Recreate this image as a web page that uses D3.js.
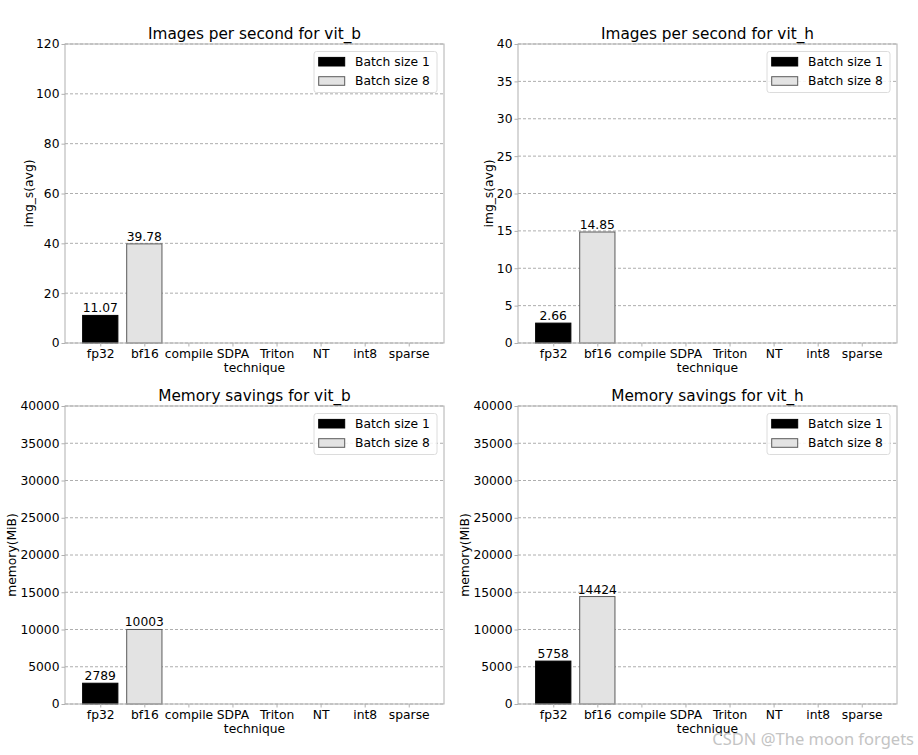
<!DOCTYPE html>
<html>
<head>
<meta charset="utf-8">
<script src="https://cdn.jsdelivr.net/npm/d3@7"></script>
<style>
  body { margin: 0; background: #fff; }
  text { font-family: "DejaVu Sans", sans-serif; }
</style>
</head>
<body>
<svg id="fig" width="918" height="755"></svg>
<script>
// categories on the x axis
let techniques = ['fp32', 'bf16', 'compile', 'SDPA', 'Triton', 'NT', 'int8', 'sparse'];
let seriesNames = ['Batch size 1', 'Batch size 8'];

// values
let ipsVitB1 = [11.07, 0, 0, 0, 0, 0, 0, 0];
let ipsVitB8 = [0, 39.78, 0, 0, 0, 0, 0, 0];
let ipsVitH1 = [2.66, 0, 0, 0, 0, 0, 0, 0];
let ipsVitH8 = [0, 14.85, 0, 0, 0, 0, 0, 0];
let memVitB1 = [2789, 0, 0, 0, 0, 0, 0, 0];
let memVitB8 = [0, 10003, 0, 0, 0, 0, 0, 0];
let memVitH1 = [5758, 0, 0, 0, 0, 0, 0, 0];
let memVitH8 = [0, 14424, 0, 0, 0, 0, 0, 0];

let ipsTicksB = [0, 20, 40, 60, 80, 100, 120];
let ipsTicksH = [0, 5, 10, 15, 20, 25, 30, 35, 40];
let memTicks = [0, 5000, 10000, 15000, 20000, 25000, 30000, 35000, 40000];

let panels = [
    {title: 'Images per second for vit_b', ylabel: 'img_s(avg)', s1: ipsVitB1, s8: ipsVitB8, ticks: ipsTicksB, fmt: d3.format('.2f'),
     x0: 65, x1: 444, y0: 44, y1: 343, ylabX: 29},
    {title: 'Images per second for vit_h', ylabel: 'img_s(avg)', s1: ipsVitH1, s8: ipsVitH8, ticks: ipsTicksH, fmt: d3.format('.2f'),
     x0: 518, x1: 897, y0: 44, y1: 343, ylabX: 489},
    {title: 'Memory savings for vit_b', ylabel: 'memory(MiB)', s1: memVitB1, s8: memVitB8, ticks: memTicks, fmt: d3.format('d'),
     x0: 65, x1: 444, y0: 406, y1: 704, ylabX: 12},
    {title: 'Memory savings for vit_h', ylabel: 'memory(MiB)', s1: memVitH1, s8: memVitH8, ticks: memTicks, fmt: d3.format('d'),
     x0: 518, x1: 897, y0: 406, y1: 704, ylabX: 465}
];

let fills = ['#000000', '#e3e3e3'];
let edges = ['#000000', '#5a5a5a'];
let fs = 12.3;

let svg = d3.select('#fig');

panels.forEach(p => {
    let xScale = d3.scaleLinear().domain([-0.8, 7.8]).range([p.x0, p.x1]);
    let yScale = d3.scaleLinear().domain([0, d3.max(p.ticks)]).range([p.y1, p.y0]);
    let g = svg.append('g');

    // dashed grid
    g.selectAll('.grid')
        .data(p.ticks)
        .enter().append('line')
        .attr('x1', p.x0).attr('x2', p.x1)
        .attr('y1', d => yScale(d)).attr('y2', d => yScale(d))
        .attr('stroke', '#999').attr('stroke-width', 0.8)
        .attr('stroke-dasharray', '3,2');

    // bars, one group per series
    [p.s1, p.s8].forEach((vals, si) => {
        g.selectAll('.bar' + si)
            .data(vals)
            .enter().append('rect')
            .attr('x', (d, i) => xScale(i - 0.4))
            .attr('width', xScale(0.4) - xScale(-0.4))
            .attr('y', d => yScale(d))
            .attr('height', d => p.y1 - yScale(d))
            .attr('fill', fills[si])
            .attr('stroke', d => d > 0 ? edges[si] : 'none')
            .attr('stroke-width', 1);

        g.selectAll('.lab' + si)
            .data(vals.map((v, i) => ({v, i})).filter(d => d.v > 0))
            .enter().append('text')
            .attr('x', d => xScale(d.i))
            .attr('y', d => yScale(d.v) - 3)
            .attr('text-anchor', 'middle')
            .attr('font-size', fs)
            .text(d => p.fmt(d.v));
    });

    // frame
    g.append('rect')
        .attr('x', p.x0).attr('y', p.y0)
        .attr('width', p.x1 - p.x0).attr('height', p.y1 - p.y0)
        .attr('fill', 'none').attr('stroke', '#b0b0b0').attr('stroke-width', 1);

    // axes
    let yAxis = d3.axisLeft(yScale).tickValues(p.ticks).tickSize(3.5).tickPadding(2).tickFormat(d3.format('d'));
    let xAxis = d3.axisBottom(xScale).tickValues(d3.range(techniques.length)).tickSize(3.5).tickPadding(3)
        .tickFormat(i => techniques[i]);

    let ya = g.append('g').attr('transform', `translate(${p.x0},0)`).call(yAxis);
    let xa = g.append('g').attr('transform', `translate(0,${p.y1})`).call(xAxis);
    [ya, xa].forEach(a => {
        a.select('.domain').remove();
        a.selectAll('line').attr('stroke', '#b0b0b0');
        a.selectAll('text').attr('font-size', fs).attr('fill', '#000')
            .style('font-family', '"DejaVu Sans", sans-serif');
    });

    // title and axis labels
    g.append('text')
        .attr('x', (p.x0 + p.x1) / 2).attr('y', p.y0 - 5)
        .attr('text-anchor', 'middle').attr('font-size', 15.3)
        .text(p.title);
    g.append('text')
        .attr('x', (p.x0 + p.x1) / 2).attr('y', p.y1 + 28.5)
        .attr('text-anchor', 'middle').attr('font-size', fs)
        .text('technique');
    g.append('text')
        .attr('transform', `translate(${p.ylabX},${(p.y0 + p.y1) / 2}) rotate(-90)`)
        .attr('text-anchor', 'middle').attr('dominant-baseline', 'central')
        .attr('font-size', fs)
        .text(p.ylabel);

    // legend
    let lx = p.x1 - 130, ly = p.y0 + 7.5;
    let leg = g.append('g').attr('transform', `translate(${lx},${ly})`);
    leg.append('rect')
        .attr('width', 123).attr('height', 41).attr('rx', 2.5)
        .attr('fill', '#fff').attr('fill-opacity', 0.85)
        .attr('stroke', '#dcdcdc').attr('stroke-width', 1);
    seriesNames.forEach((name, i) => {
        let cy = 10.2 + i * 19.3;
        leg.append('rect')
            .attr('x', 4.7).attr('y', cy - 4.3)
            .attr('width', 26).attr('height', 8.6)
            .attr('fill', fills[i]).attr('stroke', edges[i]).attr('stroke-width', 1);
        leg.append('text')
            .attr('x', 41).attr('y', cy + 4.4)
            .attr('font-size', fs)
            .text(name);
    });
});

// watermark
svg.append('text')
    .attr('x', 914).attr('y', 745)
    .attr('text-anchor', 'end')
    .attr('font-size', 16.5)
    .attr('fill', '#c4c4c4')
    .style('font-family', '"Noto Sans", sans-serif')
    .text('CSDN @The moon forgets');
</script>
</body>
</html>
